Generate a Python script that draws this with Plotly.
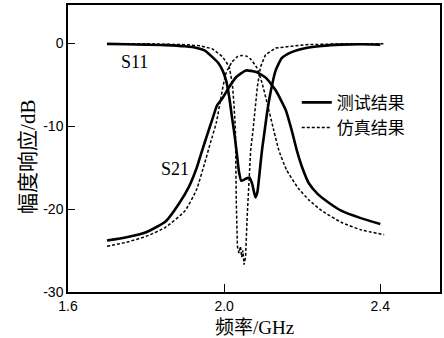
import plotly.graph_objects as go

# ---- data ----
s11_meas_f = [1.70, 1.75, 1.80, 1.85, 1.90, 1.93, 1.95, 1.97, 1.985, 1.995, 2.005, 2.013, 2.020, 2.027, 2.033,
              2.038, 2.044, 2.050, 2.058, 2.065, 2.072, 2.080, 2.085, 2.090, 2.097, 2.102, 2.110, 2.120, 2.132,
              2.148, 2.173, 2.210, 2.250, 2.300, 2.350, 2.400]
s11_meas_db = [-0.1, -0.15, -0.2, -0.25, -0.4, -0.6, -0.9, -1.7, -2.4, -3.2, -4.5, -6.5, -8.9, -11.2, -13.5,
               -15.5, -16.6, -16.5, -16.3, -16.2, -17.0, -18.6, -18.0, -16.0, -12.9, -11.2, -8.4, -5.7, -3.3,
               -1.8, -1.1, -0.6, -0.35, -0.2, -0.15, -0.2]

s11_sim_f = [1.70, 1.80, 1.90, 1.94, 1.97, 1.996, 2.013, 2.021, 2.025, 2.029, 2.031, 2.034, 2.038, 2.042, 2.045,
             2.048, 2.051, 2.055, 2.059, 2.064, 2.068, 2.074, 2.079, 2.085, 2.093, 2.106, 2.132, 2.166, 2.21,
             2.30, 2.41]
s11_sim_db = [-0.1, -0.1, -0.2, -0.35, -0.7, -1.65, -2.85, -4.9, -7.3, -10.5, -18.9, -24.5, -25.3, -24.5, -25.8,
              -25.0, -26.7, -25.7, -20.9, -16.9, -12.9, -10.5, -8.4, -5.3, -2.9, -1.4, -0.6, -0.4, -0.2,
              -0.1, -0.1]

s21_meas_f = [1.70, 1.75, 1.80, 1.85, 1.885, 1.91, 1.93, 1.944, 1.957, 1.969, 1.982, 1.995, 2.013, 2.031, 2.056,
              2.082, 2.107, 2.132, 2.158, 2.173, 2.186, 2.200, 2.217, 2.240, 2.270, 2.300, 2.350, 2.400]
s21_meas_db = [-23.8, -23.4, -22.8, -21.5, -19.3, -17.3, -15.0, -12.9, -11.0, -9.3, -7.5, -6.7, -5.3, -4.1, -3.3,
               -3.5, -4.2, -5.7, -8.1, -10.5, -12.9, -15.0, -16.9, -18.2, -19.3, -20.2, -21.1, -21.8]

s21_sim_f = [1.70, 1.75, 1.80, 1.85, 1.90, 1.929, 1.950, 1.965, 1.980, 1.992, 2.005, 2.020, 2.035, 2.046, 2.058,
             2.069, 2.084, 2.097, 2.110, 2.127, 2.140, 2.160, 2.190, 2.217, 2.250, 2.300, 2.350, 2.410]
s21_sim_db = [-24.5, -24.0, -23.3, -22.2, -20.2, -17.7, -14.5, -12.0, -9.6, -6.5, -3.6, -2.3, -1.6, -1.5, -1.6,
              -2.0, -3.0, -4.8, -7.2, -10.5, -12.9, -15.3, -17.5, -18.9, -20.2, -21.6, -22.5, -23.1]

x_ticks = [1.6, 2.0, 2.4]
x_tick_text = ["1.6", "2.0", "2.4"]
y_ticks = [-30, -20, -10, 0]
y_tick_text = ["-30", "-20", "-10", "0"]

meas_name = "测试结果"
sim_name = "仿真结果"
x_title = "频率/GHz"
y_title = "幅度响应/dB"

CJK = "Noto Sans CJK SC"
MIXED = "Liberation Serif, Noto Sans CJK SC"
SERIF = "Liberation Serif"
SANS = "Liberation Sans"

fig = go.Figure()
solid = dict(color="black", width=2.6)
dotted = dict(color="black", width=1.5, dash="3px,2px")

fig.add_trace(go.Scatter(x=s11_meas_f, y=s11_meas_db, mode="lines", line=dict(**solid, shape="spline", smoothing=0.5),
                         name=meas_name, legendgroup="m", showlegend=False))
fig.add_trace(go.Scatter(x=s21_meas_f, y=s21_meas_db, mode="lines", line=dict(**solid, shape="spline", smoothing=0.5),
                         name=meas_name, legendgroup="m", showlegend=True))
fig.add_trace(go.Scatter(x=s11_sim_f, y=s11_sim_db, mode="lines", line=dict(**dotted),
                         name=sim_name, legendgroup="s", showlegend=False))
fig.add_trace(go.Scatter(x=s21_sim_f, y=s21_sim_db, mode="lines", line=dict(**dotted, shape="spline", smoothing=0.5),
                         name=sim_name, legendgroup="s", showlegend=True))

fig.add_annotation(x=1.771, y=-2.3, text="S11", showarrow=False, font=dict(family=SERIF, size=18, color="black"))
fig.add_annotation(x=1.874, y=-15.2, text="S21", showarrow=False, font=dict(family=SERIF, size=18, color="black"))

# axis titles
fig.add_annotation(xref="paper", yref="paper", x=0.5, y=-0.125, xanchor="center", yanchor="middle",
                   text=x_title, showarrow=False, font=dict(family=MIXED, size=19, color="black"))
fig.add_annotation(xref="paper", yref="paper", x=-0.108, y=0.47, xanchor="center", yanchor="middle",
                   text=y_title, textangle=-90, showarrow=False, font=dict(family=MIXED, size=21, color="black"))

fig.update_layout(
    width=444, height=338,
    margin=dict(l=68, r=2, t=5, b=46),
    paper_bgcolor="white", plot_bgcolor="white",
    showlegend=True,
    legend=dict(x=0.615, y=0.722, xanchor="left", yanchor="top", bgcolor="rgba(0,0,0,0)",
                font=dict(family=CJK, size=17, color="black"), tracegroupgap=0, itemwidth=30),
    font=dict(family=SANS, color="black"),
)
fig.update_xaxes(range=[1.6, 2.553], tickvals=x_ticks, ticktext=x_tick_text, ticks="inside", ticklen=8,
                 tickwidth=1, tickcolor="black", showline=True, linecolor="black", linewidth=1.5, mirror=True,
                 showgrid=False, zeroline=False, tickfont=dict(family=SANS, size=14, color="black"))
fig.update_yaxes(range=[-30, 4.58], tickvals=y_ticks, ticktext=y_tick_text, ticks="inside", ticklen=7,
                 tickwidth=1, tickcolor="black", showline=True, linecolor="black", linewidth=1.5, mirror=True,
                 showgrid=False, zeroline=False, tickfont=dict(family=SANS, size=14, color="black"))

fig.write_html("out.html", config={"displayModeBar": False},
               post_script="document.body.style.margin='0';document.body.style.overflow='hidden';")
